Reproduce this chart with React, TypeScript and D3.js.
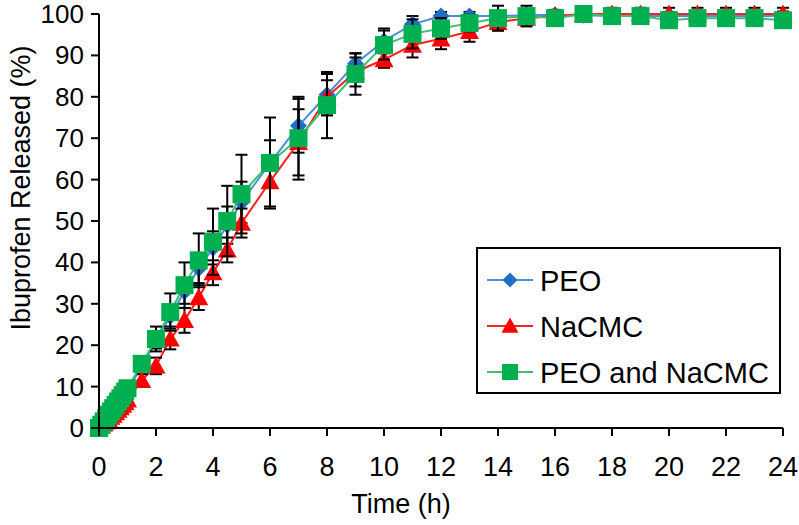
import React from "react";
import * as d3 from "d3";

const times = [0, 0.083, 0.167, 0.25, 0.333, 0.417, 0.5, 0.583, 0.667, 0.75, 0.833, 0.917, 1, 1.5, 2, 2.5, 3, 3.5, 4, 4.5, 5, 6, 7, 8, 9, 10, 11, 12, 13, 14, 15, 16, 17, 18, 19, 20, 21, 22, 23, 24];

const peoValues = [0, 0.7, 1.5, 2.2, 3.0, 3.7, 4.5, 5.2, 6.0, 6.7, 7.5, 8.2, 9.0, 15, 21, 27, 33, 38.5, 43.5, 49, 54.5, 64, 73, 80.5, 88, 93.5, 97.5, 99.5, 99.5, 99.5, 99.7, 99.8, 99.7, 99.5, 99.6, 99.5, 99.5, 99.5, 99.5, 99.6];
const peoSd = [0, 0.3, 0.3, 0.4, 0.4, 0.5, 0.5, 0.5, 0.6, 0.6, 0.7, 0.7, 0.8, 1.2, 1.8, 2.5, 3, 3.5, 4, 4.5, 5, 5.5, 6.5, 5, 2.5, 3, 2, 1, 1, 1, 1, 1, 1, 1, 1, 1, 1, 1, 1, 1];

const nacmcValues = [0, 0.5, 1.0, 1.5, 2.0, 2.6, 3.1, 3.7, 4.3, 4.9, 5.5, 6.1, 6.8, 11.5, 15, 21.5, 26, 31.5, 37.5, 43, 49.5, 59.5, 69, 80, 86, 89, 92.5, 94, 95.8, 98, 99, 99.5, 100, 100, 100, 100, 100, 100, 100, 100];
const nacmcSd = [0, 0.3, 0.3, 0.4, 0.4, 0.5, 0.5, 0.6, 0.6, 0.7, 0.8, 0.9, 1, 1.5, 2, 2.5, 3, 3, 3, 3, 3.5, 6, 8, 4, 3.5, 2, 3, 2.5, 2.5, 2, 1.5, 1.5, 1.5, 1.5, 1.5, 1.5, 1.5, 1.5, 1.5, 1.5];

const blendValues = [0, 0.8, 1.6, 2.4, 3.2, 4.0, 4.8, 5.6, 6.4, 7.2, 8.0, 8.8, 9.6, 15.5, 21.5, 28, 34.5, 40.5, 45, 50, 56.5, 64, 70, 78, 85.5, 92.5, 95.2, 96.5, 97.8, 99, 99.5, 99, 100, 99.5, 99.5, 98.5, 99, 99, 99, 98.5];
const blendSd = [0, 0.3, 0.3, 0.4, 0.4, 0.5, 0.5, 0.6, 0.6, 0.7, 0.8, 0.9, 1, 1.5, 3, 4.5, 5.5, 6.5, 8, 8.5, 9.5, 11, 10, 8, 5, 3.5, 3.5, 2.5, 2, 3, 2.5, 1.5, 1.5, 1.5, 1.5, 1.5, 1.5, 1.5, 1.5, 1.5];

const seriesNames = ["PEO", "NaCMC", "PEO and NaCMC"];
const xTicks = [0, 2, 4, 6, 8, 10, 12, 14, 16, 18, 20, 22, 24];
const yTicks = [0, 10, 20, 30, 40, 50, 60, 70, 80, 90, 100];

const FONT = "'Liberation Sans', Arial, sans-serif";

function Marker({ kind, cx, cy, color, size }: { kind: string; cx: number; cy: number; color: string; size: number }) {
  const h = size / 2;
  if (kind === "diamond") {
    return <path d={`M${cx},${cy - h}L${cx + h},${cy}L${cx},${cy + h}L${cx - h},${cy}Z`} fill={color} />;
  }
  if (kind === "triangle") {
    return <path d={`M${cx},${cy - h}L${cx + h},${cy + h * 0.8}L${cx - h},${cy + h * 0.8}Z`} fill={color} />;
  }
  return <rect x={cx - h} y={cy - h} width={size} height={size} fill={color} />;
}

export default function App() {
  const x = d3.scaleLinear().domain([0, 24]).range([99, 783]);
  const y = d3.scaleLinear().domain([0, 100]).range([428, 14]);

  const series = [
    { name: seriesNames[0], values: peoValues, sd: peoSd, line: "#4a8fd8", fill: "#1f6fc4", kind: "diamond", size: 17 },
    { name: seriesNames[1], values: nacmcValues, sd: nacmcSd, line: "#ff2020", fill: "#ff0000", kind: "triangle", size: 19 },
    { name: seriesNames[2], values: blendValues, sd: blendSd, line: "#3cc070", fill: "#00b050", kind: "square", size: 18 },
  ];

  const line = d3
    .line<number>()
    .x((_, i) => x(times[i]))
    .y((v) => y(v));

  const cap = 6;

  return (
    <svg width={799} height={525} style={{ position: "absolute", left: 0, top: 0, background: "#fff" }} fontFamily={FONT}>
      <rect width={799} height={525} fill="#fff" />
      {series.map((s) => (
        <g key={s.name}>
          <path d={line(s.values) || ""} fill="none" stroke={s.line} strokeWidth={2} />
          {s.values.map((v, i) => {
            const cx = x(times[i]);
            const y1 = y(v + s.sd[i]);
            const y2 = y(v - s.sd[i]);
            return (
              <g key={i} stroke="#000" strokeWidth={2}>
                <line x1={cx} x2={cx} y1={y1} y2={y2} />
                <line x1={cx - cap} x2={cx + cap} y1={y1} y2={y1} />
                <line x1={cx - cap} x2={cx + cap} y1={y2} y2={y2} />
              </g>
            );
          })}
          {s.values.map((v, i) => (
            <Marker key={i} kind={s.kind} cx={x(times[i])} cy={y(v)} color={s.fill} size={s.size} />
          ))}
        </g>
      ))}

      {/* axes */}
      <g stroke="#000" strokeWidth={2}>
        <line x1={99} x2={99} y1={y(100)} y2={y(0)} />
        <line x1={99} x2={783} y1={y(0)} y2={y(0)} />
        {yTicks.map((t) => (
          <line key={t} x1={91} x2={99} y1={y(t)} y2={y(t)} />
        ))}
        {xTicks.map((t) => (
          <line key={t} x1={x(t)} x2={x(t)} y1={428} y2={436} />
        ))}
      </g>
      {yTicks.map((t) => (
        <text key={t} x={84} y={y(t) + 9} fontSize={26} textAnchor="end" fill="#000">
          {t}
        </text>
      ))}
      {xTicks.map((t) => (
        <text key={t} x={x(t)} y={476} fontSize={27} textAnchor="middle" fill="#000">
          {t}
        </text>
      ))}
      <text x={401} y={513} fontSize={27} textAnchor="middle" fill="#000">
        Time (h)
      </text>
      <text transform="translate(30,188) rotate(-90)" fontSize={27} textAnchor="middle" fill="#000">
        Ibuprofen  Released (%)
      </text>

      {/* legend */}
      <rect x={477} y={248} width={303} height={145} fill="#fff" stroke="#000" strokeWidth={2} />
      {series.map((s, i) => {
        const cy = 280 + i * 46;
        return (
          <g key={s.name}>
            <line x1={487} x2={533} y1={cy} y2={cy} stroke={s.line} strokeWidth={2} />
            <Marker kind={s.kind} cx={510} cy={cy} color={s.fill} size={s.size - 2} />
            <text x={540} y={cy + 10.5} fontSize={29} fill="#000">
              {s.name}
            </text>
          </g>
        );
      })}
    </svg>
  );
}
